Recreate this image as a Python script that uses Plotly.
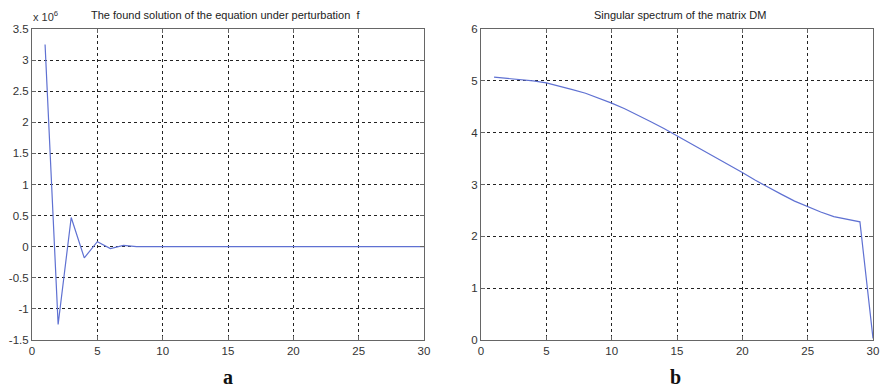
import plotly.graph_objects as go

# Panel a: solution under perturbation f (values in raw units)
k_a = list(range(1, 31))
sol_a = [3.25e6, -1.25e6, 0.47e6, -0.18e6, 0.08e6, -0.03e6, 0.02e6, 0.0] + [0.0] * 22

# Panel b: singular spectrum of the matrix DM
k_b = list(range(1, 31))
sv_b = [5.07, 5.05, 5.03, 5.00, 4.96, 4.90, 4.83, 4.76, 4.67, 4.57,
        4.46, 4.34, 4.21, 4.08, 3.94, 3.80, 3.65, 3.51, 3.37, 3.23,
        3.08, 2.94, 2.81, 2.68, 2.57, 2.47, 2.38, 2.33, 2.28, 0.03]

x_ticks = [0, 5, 10, 15, 20, 25, 30]
ya_ticks = [-1.5, -1, -0.5, 0, 0.5, 1, 1.5, 2, 2.5, 3, 3.5]
yb_ticks = [0, 1, 2, 3, 4, 5, 6]
scale_a = 1e6

line_color = "#5f71d2"
font = dict(family="Liberation Sans, Arial, sans-serif", size=11.5, color="#333333")

fig = go.Figure()
fig.add_trace(go.Scatter(x=k_a, y=[v / scale_a for v in sol_a], mode="lines",
                         line=dict(color=line_color, width=1.2), xaxis="x", yaxis="y"))
fig.add_trace(go.Scatter(x=k_b, y=sv_b, mode="lines",
                         line=dict(color=line_color, width=1.2), xaxis="x2", yaxis="y2"))

W, H = 881, 387
ydom = [(H - 340) / H, (H - 29) / H]

axis_common = dict(showline=True, mirror="ticks", linecolor="#666666", linewidth=1,
                   showgrid=True, gridcolor="#222222", griddash="dot", gridwidth=1,
                   ticks="inside", ticklen=4, tickcolor="#666666",
                   zeroline=False, tickfont=font, automargin=False)


def label(text, x, y, size=11, color="#222222", family=font["family"], xanchor="center"):
    return dict(text=text, x=x / W, y=(H - y) / H, xref="paper", yref="paper",
                xanchor=xanchor, yanchor="middle", showarrow=False,
                font=dict(family=family, size=size, color=color))


serif = "Liberation Serif, Times New Roman, serif"

fig.update_layout(
    template="none",
    width=W, height=H,
    margin=dict(l=0, r=0, t=0, b=0, autoexpand=False),
    paper_bgcolor="white", plot_bgcolor="white",
    showlegend=False,
    font=font,
    xaxis=dict(domain=[32 / W, 424 / W], range=[0, 30], tickvals=x_ticks,
               anchor="y", **axis_common),
    yaxis=dict(domain=ydom, range=[-1.5, 3.5], tickvals=ya_ticks,
               ticktext=[f"{t:g}" for t in ya_ticks], anchor="x", **axis_common),
    xaxis2=dict(domain=[481 / W, 873 / W], range=[0, 30], tickvals=x_ticks,
                anchor="y2", **axis_common),
    yaxis2=dict(domain=ydom, range=[0, 6], tickvals=yb_ticks, anchor="x2", **axis_common),
    annotations=[
        label("The found solution of the equation under perturbation  f", 225, 15),
        label("x 10<sup>6</sup>", 31, 16, color="#333333", xanchor="left"),
        label("Singular spectrum of the matrix DM", 680, 15),
        label("<b>a</b>", 228, 377, size=20, color="#111111", family=serif),
        label("<b>b</b>", 675, 377, size=20, color="#111111", family=serif),
    ],
)

fig.write_html("out.html")
